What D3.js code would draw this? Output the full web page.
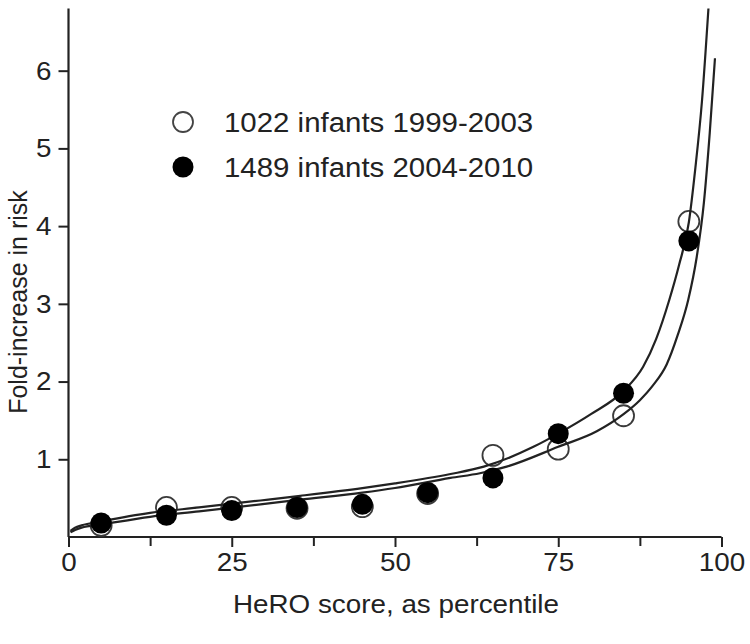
<!DOCTYPE html>
<html>
<head>
<meta charset="utf-8">
<script src="https://cdn.jsdelivr.net/npm/d3@7"></script>
<style>
  html, body { margin: 0; padding: 0; background: #fff; }
  svg { display: block; font-family: "Liberation Sans", Arial, sans-serif; }
</style>
</head>
<body>
<svg id="chart" width="750" height="644"></svg>
<script>
// ---- data ----
const percentiles = [5, 15, 25, 35, 45, 55, 65, 75, 85, 95];
const risk1999 = [0.15, 0.38, 0.38, 0.37, 0.39, 0.56, 1.05, 1.13, 1.56, 4.06];
const risk2004 = [0.18, 0.28, 0.34, 0.38, 0.42, 0.57, 0.76, 1.33, 1.85, 3.81];

// fitted curves, points
const curveA_x = [0.3, 1, 2, 5, 12.5, 20, 29.4, 35.5, 45, 50, 58.5, 63.6, 71.2, 75, 80, 85, 88, 90, 92, 93.5, 95, 96, 97, 98];
const curveA_y = [0.08, 0.12, 0.15, 0.20, 0.31, 0.38, 0.47, 0.53, 0.63, 0.69, 0.81, 0.905, 1.16, 1.33, 1.58, 1.88, 2.19, 2.55, 3.05, 3.5, 4.05, 4.75, 5.6, 6.8];
const curveB_x = [0.3, 1, 2, 5, 12.5, 20, 29.4, 35.5, 45, 50, 58.5, 63, 67.1, 75, 80.9, 85, 87.5, 89.5, 91.6, 93.3, 94.9, 96.2, 97.3, 98.2, 99];
const curveB_y = [0.06, 0.09, 0.12, 0.16, 0.26, 0.33, 0.42, 0.48, 0.57, 0.63, 0.76, 0.82, 0.905, 1.16, 1.36, 1.58, 1.76, 1.95, 2.22, 2.6, 3.05, 3.6, 4.3, 5.2, 6.16];

const xTicks = [0, 25, 50, 75, 100];
const xMinorTicks = [12.5, 37.5, 62.5, 87.5];
const yTicks = [1, 2, 3, 4, 5, 6];
const legendLabels = ["1022 infants 1999-2003", "1489 infants 2004-2010"];
const xTitle = "HeRO score, as percentile";
const yTitle = "Fold-increase in risk";

// ---- drawing ----
const ink = "#222";
const stretch = 1.07;
const svg = d3.select("#chart");
const x = d3.scaleLinear().domain([0, 100]).range([68.5, 721.5]);
const y = d3.scaleLinear().domain([0, 6.8]).range([537, 8.5]);

// axes
const xAxis = svg.append("g").attr("transform", `translate(0,${y(0)})`)
  .call(d3.axisBottom(x).tickValues(xTicks).tickSize(10).tickPadding(6).tickFormat(d3.format("d")));
svg.append("g").attr("transform", `translate(0,${y(0)})`)
  .call(d3.axisBottom(x).tickValues(xMinorTicks).tickSize(9).tickFormat(""))
  .call(g => g.select(".domain").remove());
const yAxis = svg.append("g").attr("transform", `translate(${x(0)},0)`)
  .call(d3.axisLeft(y).tickValues(yTicks).tickSize(10).tickPadding(7).tickFormat(d3.format("d")));

svg.selectAll(".domain").attr("stroke", ink).attr("stroke-width", 2.2);
svg.selectAll(".tick line").attr("stroke", ink).attr("stroke-width", 2);
svg.selectAll(".tick text").attr("fill", ink).attr("font-size", 26)
  .attr("font-family", "'Liberation Sans', Arial, sans-serif")
  .attr("transform", `scale(${stretch},1)`);
yAxis.selectAll(".tick text").attr("x", -17 / stretch);
yAxis.select(".domain").attr("d", `M0,${y(6.8)}V${y(0)}`);
xAxis.select(".domain").attr("d", `M${x(0)},0H${x(100)}`);

// axis titles
svg.append("text").attr("transform", `translate(396,613) scale(${stretch},1)`).attr("text-anchor", "middle")
  .attr("font-size", 26).attr("fill", ink).text(xTitle);
svg.append("text").attr("transform", `translate(27,302) rotate(-90)`).attr("text-anchor", "middle")
  .attr("font-size", 25).attr("fill", ink).text(yTitle);

// data points: open (1999-2003) first, filled (2004-2010) on top
const R = 10.5;
svg.append("g").selectAll("circle").data(percentiles).join("circle")
  .attr("cx", d => x(d)).attr("cy", (d, i) => y(risk1999[i])).attr("r", R)
  .attr("fill", "none").attr("stroke", "#3a3a3a").attr("stroke-width", 1.8);

// curves
const line = d3.line().x(d => x(d[0])).y(d => y(d[1])).curve(d3.curveMonotoneX);
const curveA = d3.zip(curveA_x, curveA_y);
const curveB = d3.zip(curveB_x, curveB_y);
svg.append("path").datum(curveA).attr("d", line).attr("fill", "none").attr("stroke", ink).attr("stroke-width", 2.2);
svg.append("path").datum(curveB).attr("d", line).attr("fill", "none").attr("stroke", ink).attr("stroke-width", 2.2);

svg.append("g").selectAll("circle").data(percentiles).join("circle")
  .attr("cx", d => x(d)).attr("cy", (d, i) => y(risk2004[i])).attr("r", R)
  .attr("fill", "#000");

// legend
const lg = svg.append("g");
lg.append("circle").attr("cx", 183).attr("cy", 122).attr("r", 10).attr("fill", "#fff")
  .attr("stroke", "#444").attr("stroke-width", 1.8);
lg.append("circle").attr("cx", 183).attr("cy", 167).attr("r", 10.5).attr("fill", "#000");
lg.append("text").attr("transform", `translate(224,132) scale(${stretch},1)`)
  .attr("font-size", 27.5).attr("fill", ink).text(legendLabels[0]);
lg.append("text").attr("transform", `translate(224,177) scale(${stretch},1)`)
  .attr("font-size", 27.5).attr("fill", ink).text(legendLabels[1]);
</script>
</body>
</html>
